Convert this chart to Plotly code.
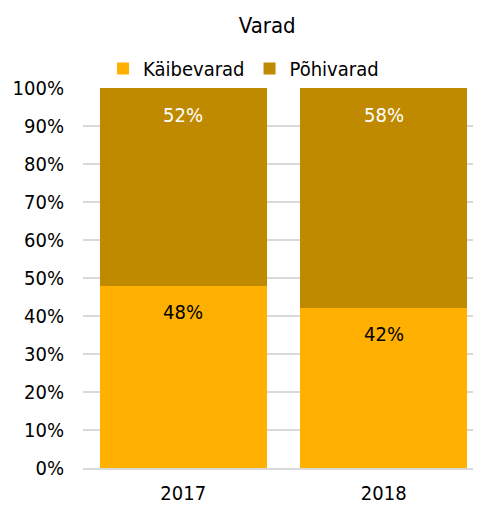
import plotly.graph_objects as go

years = ["2017", "2018"]
kaibevarad = [0.48, 0.42]
pohivarad = [0.52, 0.58]
kaibe_labels = ["48%", "42%"]
pohi_labels = ["52%", "58%"]
y_ticks = [i / 10 for i in range(11)]

FONT = "DejaVu Sans Condensed, DejaVu Sans"
FS = 20

fig = go.Figure()
fig.add_trace(go.Bar(
    x=years, y=kaibevarad, name="Käibevarad",
    marker=dict(color="#FFB000", line=dict(width=0)),
))
fig.add_trace(go.Bar(
    x=years, y=pohivarad, name="Põhivarad",
    marker=dict(color="#BF8A00", line=dict(width=0)),
))

# data labels near the inside end of each segment (x = category index)
tops_k = kaibevarad
tops_p = [a + b for a, b in zip(kaibevarad, pohivarad)]
for i, (top, lab) in enumerate(zip(tops_k, kaibe_labels)):
    fig.add_annotation(x=i, y=top, xref="x", yref="y", text=lab, showarrow=False,
                       yanchor="middle", yshift=-26,
                       font=dict(color="#000000", size=FS, family=FONT))
for i, (top, lab) in enumerate(zip(tops_p, pohi_labels)):
    fig.add_annotation(x=i, y=top, xref="x", yref="y", text=lab, showarrow=False,
                       yanchor="middle", yshift=-27,
                       font=dict(color="#FFFFFF", size=FS, family=FONT))

fig.update_layout(
    width=481, height=505,
    barmode="stack", bargap=0.165,
    margin=dict(l=75, r=5, t=80, b=45),
    paper_bgcolor="white", plot_bgcolor="white",
    font=dict(family=FONT, size=FS, color="#000000"),
    title=dict(text="Varad", x=0.539, xanchor="center", y=0.966, yanchor="middle",
               font=dict(size=22, family=FONT, color="#000000")),
    legend=dict(orientation="h", x=0.05, xanchor="left", y=1.0, yanchor="bottom",
                font=dict(size=FS, family=FONT), itemwidth=30,
                traceorder="normal", bgcolor="rgba(0,0,0,0)"),
)
fig.update_yaxes(range=[0, 1], tickvals=y_ticks, tickformat=".0%",
                 showgrid=True, gridcolor="#D9D9D9", gridwidth=1.5,
                 zeroline=False, showline=False, ticks="", ticklabelstandoff=18,
                 tickfont=dict(size=FS))
fig.update_xaxes(type="category", showline=True, linecolor="#D9D9D9", linewidth=1.5,
                 ticks="", ticklabelstandoff=6, tickfont=dict(size=FS),
                 range=[-0.5, 1.5])

fig.write_html("out.html")
